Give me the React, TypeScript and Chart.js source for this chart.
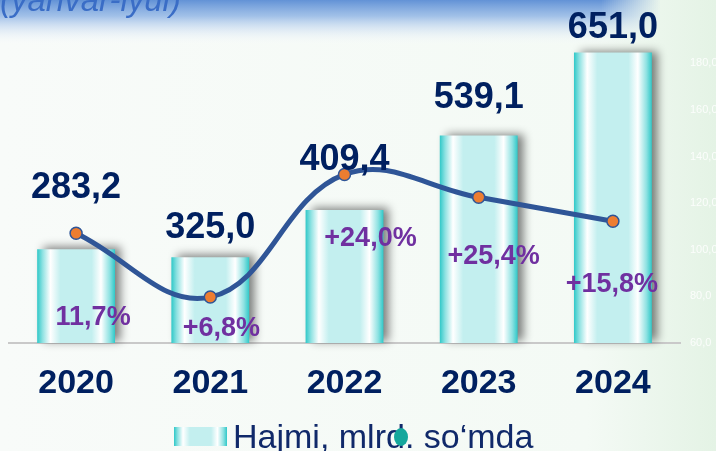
import React, { useEffect, useRef } from "react";
import { Chart, registerables } from "chart.js";

Chart.register(...registerables);

// ---- data ----
const years = ["2020", "2021", "2022", "2023", "2024"];
const volumeLabels = ["283,2", "325,0", "409,4", "539,1", "651,0"]; // mlrd. so'm
const barHeights = [201, 184, 285, 445, 623]; // bar heights read on the hidden bar axis
const growthLabels = ["11,7%", "+6,8%", "+24,0%", "+25,4%", "+15,8%"];
const indexValues = [107.1, 79.7, 132.3, 122.5, 112.2]; // line, right axis
const rightTicks = [60, 80, 100, 120, 140, 160, 180];
const legendText = "Hajmi, mlrd. so\u2018mda";
const titleText = "(yanvar-iyul)";

// ---- layout tweaks for the text labels (px) ----
const valueLabelLift = [61, 29, 50, 37, 24];
const growthDx = [17, 11, 26, 15, -1];
const growthDy = [84, 31, 64, 59, 63];

const NAVY = "#002060";
const PURPLE = "#7030a0";
const LINE = "#2f5597";
const ORANGE = "#ed7d31";

function barGradient(ctx: CanvasRenderingContext2D, x0: number, x1: number) {
  const g = ctx.createLinearGradient(x0, 0, x1, 0);
  g.addColorStop(0, "#2fc8c8");
  g.addColorStop(0.07, "#8fe2e2");
  g.addColorStop(0.17, "#ffffff");
  g.addColorStop(0.3, "#c3efef");
  g.addColorStop(0.7, "#c3efef");
  g.addColorStop(0.82, "#ffffff");
  g.addColorStop(0.93, "#8fe2e2");
  g.addColorStop(1, "#2fc8c8");
  return g;
}

const backgroundPlugin = {
  id: "bg",
  beforeDraw(chart: any) {
    const { ctx, width, height } = chart;
    ctx.save();
    const g = ctx.createLinearGradient(0, 0, width, 0);
    g.addColorStop(0, "#f8fbf9");
    g.addColorStop(0.82, "#f4faf5");
    g.addColorStop(1, "#e4f3e5");
    ctx.fillStyle = g;
    ctx.fillRect(0, 0, width, height);
    // top blue band fading out to the right
    const bandW = 660;
    const vg = ctx.createLinearGradient(0, 0, 0, 46);
    vg.addColorStop(0, "rgba(98,146,214,1)");
    vg.addColorStop(0.35, "rgba(140,178,228,0.8)");
    vg.addColorStop(1, "rgba(255,255,255,0)");
    ctx.fillStyle = vg;
    for (let x = 0; x < bandW; x += 2) {
      const a = x < 600 ? 1 : Math.max(0, 1 - (x - 600) / 60);
      ctx.globalAlpha = a;
      ctx.fillRect(x, 0, 2, 46);
    }
    ctx.globalAlpha = 1;
    ctx.fillStyle = "#3a6dc6";
    ctx.font = "italic 33px 'Liberation Sans', Arial, sans-serif";
    ctx.textBaseline = "alphabetic";
    ctx.textAlign = "left";
    ctx.fillText(titleText, 0, 11);
    ctx.restore();
  },
};

const shadowPlugin = {
  id: "barShadow",
  beforeDatasetDraw(chart: any, args: any) {
    if (args.index !== 0) return;
    const ctx = chart.ctx;
    const meta = chart.getDatasetMeta(0);
    meta.data.forEach((el: any) => {
      const w = el.width;
      if (isFinite(el.x) && isFinite(w) && el.options) {
        const opts: any = {};
        for (const k in el.options) opts[k] = el.options[k];
        opts.borderSkipped = el.options.borderSkipped;
        opts.borderWidth = 0;
        opts.borderColor = "rgba(0,0,0,0)";
        opts.borderRadius = 0;
        opts.inflateAmount = el.options.inflateAmount ?? "auto";
        opts.backgroundColor = barGradient(ctx, el.x - w / 2, el.x + w / 2);
        el.options = opts;
      }
    });
    ctx.save();
    ctx.shadowColor = "rgba(0,0,0,0.5)";
    ctx.shadowBlur = 9;
    ctx.shadowOffsetX = 6;
    ctx.shadowOffsetY = -2;
  },
  afterDatasetDraw(chart: any, args: any) {
    if (args.index !== 0) return;
    chart.ctx.restore();
  },
};

const labelsPlugin = {
  id: "labels",
  afterDatasetsDraw(chart: any) {
    const { ctx } = chart;
    const bars = chart.getDatasetMeta(0).data;
    const pts = chart.getDatasetMeta(1).data;
    ctx.save();
    ctx.textAlign = "center";
    ctx.textBaseline = "middle";
    ctx.fillStyle = NAVY;
    ctx.font = "bold 36px 'Liberation Sans', Arial, sans-serif";
    bars.forEach((b: any, i: number) => {
      ctx.fillText(volumeLabels[i], b.x, b.y - valueLabelLift[i]);
    });
    ctx.fillStyle = PURPLE;
    ctx.font = "bold 27px 'Liberation Sans', Arial, sans-serif";
    pts.forEach((p: any, i: number) => {
      ctx.fillText(growthLabels[i], p.x + growthDx[i], p.y + growthDy[i]);
    });
    // legend
    const sx = 174, sy = 427, sw = 53, sh = 19;
    ctx.fillStyle = barGradient(ctx, sx, sx + sw);
    ctx.fillRect(sx, sy, sw, sh);
    ctx.textAlign = "left";
    ctx.textBaseline = "alphabetic";
    ctx.fillStyle = "#10296a";
    ctx.font = "34px 'Liberation Sans', Arial, sans-serif";
    ctx.fillText(chart.data.datasets[0].label, 233, 448);
    ctx.fillStyle = "#14a79c";
    ctx.beginPath();
    ctx.ellipse(401, 437, 7, 9, 0, 0, Math.PI * 2);
    ctx.fill();
    ctx.restore();
  },
};

export default function App() {
  const ref = useRef<HTMLCanvasElement>(null);
  useEffect(() => {
    if (!ref.current) return;
    const chart = new Chart(ref.current, {
      type: "bar",
      data: {
        labels: years,
        datasets: [
          {
            type: "bar",
            label: legendText,
            data: barHeights,
            yAxisID: "y",
            order: 2,
            barPercentage: 0.58,
            categoryPercentage: 1,
            borderWidth: 0,
            clip: false as any,
            backgroundColor: "#c3efef",
          },
          {
            type: "line",
            label: "index",
            data: indexValues,
            yAxisID: "y1",
            order: 1,
            borderColor: LINE,
            borderWidth: 5,
            tension: 0.4,
            pointRadius: 6,
            pointBackgroundColor: ORANGE,
            pointBorderColor: LINE,
            pointBorderWidth: 1.5,
            fill: false,
          },
        ],
      },
      options: {
        responsive: false,
        animation: false,
        layout: { padding: { left: 9, top: 16, right: 0, bottom: 0 } },
        plugins: {
          legend: { display: false },
          tooltip: { enabled: false },
          title: { display: false },
        },
        scales: {
          x: {
            grid: { display: false, drawTicks: false },
            border: { display: true, color: "#c9c9c9", width: 2 },
            ticks: {
              color: NAVY,
              padding: 20,
              font: {
                family: "'Liberation Sans Narrow', 'Arial Narrow', 'Liberation Sans', Arial, sans-serif",
                size: 34,
                weight: "bold",
              },
            },
            afterFit: (s: any) => {
              s.height = 108;
            },
          },
          y: {
            display: false,
            min: 0,
            max: 700,
          },
          y1: {
            position: "right",
            min: 60,
            max: 200,
            grid: { display: false, drawTicks: false },
            border: { display: false },
            afterBuildTicks: (s: any) => {
              s.ticks = rightTicks.map((v) => ({ value: v }));
            },
            ticks: {
              color: "rgba(255,255,255,0.85)",
              padding: 10,
              font: { family: "'Liberation Sans', Arial, sans-serif", size: 11 },
              callback: (v: any) => Number(v).toFixed(1).replace(".", ","),
            },
            afterFit: (s: any) => {
              s.width = 36;
            },
          },
        },
      },
      plugins: [backgroundPlugin, shadowPlugin, labelsPlugin],
    });
    return () => chart.destroy();
  }, []);
  return (
    <div style={{ position: "fixed", left: 0, top: 0, width: 716, height: 451, overflow: "hidden" }}>
      <canvas ref={ref} width={716} height={451} style={{ display: "block" }} />
    </div>
  );
}
